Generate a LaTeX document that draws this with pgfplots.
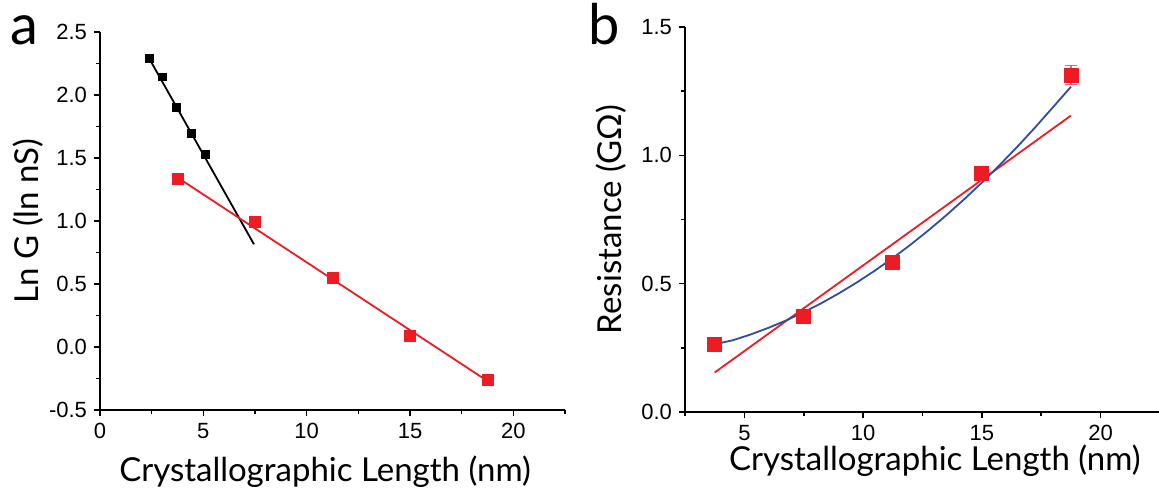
\documentclass[border=0pt]{standalone}
\usepackage{fontspec}
\usepackage{pgfplots}
\pgfplotsset{compat=1.18}
\setmainfont{Liberation Sans}
\newfontfamily\labelfont{Lato}
\definecolor{fitred}{RGB}{237,28,36}
\definecolor{fitblue}{RGB}{46,77,160}

\pgfplotsset{panel/.style={
  scale only axis,
  axis x line*=bottom, axis y line*=left,
  axis line style={line width=1pt},
  every tick/.style={black, line width=0.8pt},
  tick align=outside,
  major tick length=3pt, minor tick length=1.8pt,
  tick label style={font=\fontsize{11}{13}\selectfont},
  /pgf/number format/assume math mode=true,
  label style={font=\labelfont\fontsize{16.5}{19}\selectfont},
  clip=false,
}}

\begin{document}
\begin{tikzpicture}
\useasboundingbox (-50pt,-40pt) rectangle (529.5pt,205pt);

% (a) conductance vs. length
\begin{axis}[panel,
  at={(0pt,0pt)}, anchor=south west,
  width=232.5pt, height=189pt,
  xmin=0, xmax=22.5, ymin=-0.5, ymax=2.5,
  xtick={0,5,10,15,20}, minor xtick={2.5,7.5,12.5,17.5,22.5},
  ytick={-0.5,0,0.5,1,1.5,2,2.5},
  minor ytick={-0.25,0.25,0.75,1.25,1.75,2.25},
  yticklabel style={/pgf/number format/.cd, fixed, fixed zerofill, precision=1},
  xlabel={Crystallographic Length (nm)},
  ylabel={Ln G (ln nS)},
  xlabel style={at={(axis description cs:0.484,-0.19)}, anchor=base},
  ylabel style={at={(axis description cs:-0.155,0.5)}, anchor=center},
]
\addplot[black, line width=0.9pt] coordinates {(2.38,2.29) (7.45,0.815)};
\addplot[fitred, line width=0.9pt] coordinates {(3.75,1.345) (18.75,-0.27)};
\addplot[only marks, mark=square*, mark size=1.9pt, black] coordinates {
  (2.38,2.29) (3.01,2.145) (3.71,1.90) (4.41,1.695) (5.09,1.527)};
\addplot[only marks, mark=square*, mark size=2.75pt, fitred] coordinates {
  (3.75,1.333) (7.5,0.995) (11.25,0.55) (15.0,0.085) (18.75,-0.26)};
\end{axis}
\node[anchor=base west, font=\labelfont\fontsize{28}{30}\selectfont, inner sep=0pt] at (-45pt,182.5pt) {a};

% (b) resistance vs. length
\begin{axis}[panel,
  at={(292.5pt,-1pt)}, anchor=south west,
  width=237.5pt, height=192.5pt,
  xmin=2.5, xmax=22.5, ymin=0, ymax=1.5,
  xtick={5,10,15,20}, minor xtick={2.5,7.5,12.5,17.5,22.5},
  ytick={0,0.5,1,1.5}, minor ytick={0.25,0.75,1.25},
  yticklabel style={/pgf/number format/.cd, fixed, fixed zerofill, precision=1},
  xlabel={Crystallographic Length (nm)},
  ylabel={Resistance (GΩ)},
  xlabel style={at={(axis description cs:0.526,-0.151)}, anchor=base},
  ylabel style={at={(axis description cs:-0.156,0.5)}, anchor=center},
]
\addplot[fitred, line width=0.9pt] coordinates {(3.75,0.154) (18.75,1.155)};
\addplot[fitblue, line width=0.9pt] coordinates {
  (3.75,0.264) (4.5,0.2792) (5.25,0.3016) (6.0,0.3274) (6.75,0.3564)
  (7.5,0.3888) (8.25,0.4244) (9.0,0.4634) (9.75,0.5056) (10.5,0.5512)
  (11.25,0.60) (12.0,0.6522) (12.75,0.7076) (13.5,0.7664) (14.25,0.8284)
  (15.0,0.8938) (15.75,0.9624) (16.5,1.0343) (17.25,1.1096) (18.0,1.1881)
  (18.75,1.267)};
\addplot[only marks, mark=square*, mark size=3.5pt, fitred,
  error bars/.cd, y dir=both, y explicit,
  error bar style={fitred!70, line width=0.6pt},
  error mark options={rotate=90, mark size=3pt, fitred!70, line width=0.6pt}]
  coordinates {
  (3.75,0.264) +- (0,0.01)
  (7.5,0.372) +- (0,0.01)
  (11.25,0.583) +- (0,0.01)
  (15.0,0.93) +- (0,0.01)
  (18.75,1.3125) +- (0,0.037)};
\end{axis}
\node[anchor=base west, font=\labelfont\fontsize{28}{30}\selectfont, inner sep=0pt] at (244pt,182.5pt) {b};
\end{tikzpicture}
\end{document}
